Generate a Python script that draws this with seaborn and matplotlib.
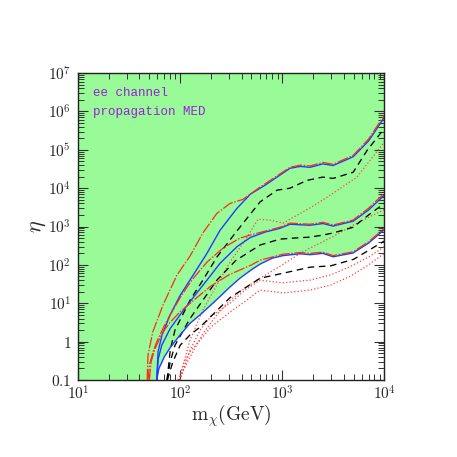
import matplotlib
matplotlib.use('Agg')
import matplotlib.pyplot as plt
import seaborn as sns
from matplotlib.ticker import FixedLocator, LogLocator, NullFormatter

sns.set_style('ticks')
plt.rcParams['mathtext.fontset'] = 'cm'
plt.rcParams['font.family'] = ['DejaVu Serif', 'DejaVu Sans']

# ---------------- data ----------------
# top family
A_red_m = [47.5, 48.5, 54, 68, 93, 125, 167, 229, 308, 412, 607, 1190, 1500, 1870, 2500, 3150, 4950, 7000, 10000]
A_red_eta = [0.1, 0.45, 1.8, 9, 54, 170, 680, 2200, 4000, 5100, 1.07e4, 3.5e4, 4.0e4, 3.8e4, 4.7e4, 4.2e4, 7.2e4, 1.9e5, 8.0e5]
A_blue_m = [59, 60.8, 66.5, 79.6, 100, 134, 183, 246, 361, 488, 680, 1190, 1500, 1870, 2500, 3150, 4950, 7000, 10000]
A_blue_eta = [0.1, 0.54, 1.5, 4.9, 16, 54, 200, 800, 3000, 7000, 1.2e4, 3.3e4, 3.7e4, 3.5e4, 4.3e4, 3.9e4, 6.6e4, 1.7e5, 7.0e5]
A_black_m = [74.5, 80, 89, 125, 167, 229, 350, 607, 890, 1190, 1750, 2500, 3150, 4950, 6800, 10000]
A_black_eta = [0.1, 0.6, 2.0, 12, 40, 160, 700, 4400, 8900, 1.0e4, 1.6e4, 1.95e4, 1.8e4, 2.6e4, 9.8e4, 3.6e5]
A_dot_m = [95, 100, 125, 167, 229, 308, 432, 580, 760, 1020, 1500, 2000, 3150, 5400, 10000]
A_dot_eta = [0.1, 0.13, 1.1, 6.6, 30, 118, 440, 1550, 1470, 1230, 2200, 3400, 7400, 1.95e4, 1.6e5]

# middle family
B_red_m = [48.5, 50, 55, 60, 70, 80, 100, 130, 183, 263, 385, 520, 680, 950, 1190, 1870, 2500, 3150, 4950, 7000, 10000]
B_red_eta = [0.1, 0.25, 0.6, 1.1, 2.6, 5, 14, 40, 118, 275, 500, 630, 760, 960, 1230, 1150, 1290, 1100, 1480, 3000, 7400]
B_blue_m = [59, 61, 66, 80, 100, 134, 183, 246, 361, 488, 680, 950, 1190, 1870, 2500, 3150, 4950, 7000, 10000]
B_blue_eta = [0.1, 0.35, 0.8, 2.2, 5, 14, 40, 110, 300, 520, 720, 900, 1150, 1080, 1200, 1030, 1380, 2700, 6600]
B_black_m = [74.5, 80, 89, 125, 167, 229, 350, 607, 950, 1280, 1870, 2500, 3150, 4950, 7000, 10000]
B_black_eta = [0.1, 0.3, 0.8, 4, 12, 40, 130, 330, 470, 500, 530, 600, 680, 960, 2000, 4000]
B_dot_m = [97, 125, 167, 229, 308, 432, 607, 1000, 1500, 2000, 3150, 5000, 10000]
B_dot_eta = [0.1, 0.4, 1.6, 5, 12, 25, 45, 100, 200, 300, 550, 1100, 2800]

# bottom family
C_red_m = [50, 52, 56, 62, 70, 80, 100, 150, 200, 300, 500, 607, 1020, 1500, 1870, 2500, 3150, 4950, 7000, 10000]
C_red_eta = [0.1, 0.3, 0.6, 1.1, 2, 3.2, 6, 15, 28, 55, 100, 133, 190, 210, 200, 215, 175, 220, 400, 900]
C_blue_m = [59, 62, 70, 80, 100, 125, 157, 200, 246, 300, 385, 500, 607, 800, 1020, 1500, 1870, 2500, 3150, 4950, 7000, 10000]
C_blue_eta = [0.1, 0.2, 0.4, 0.7, 1.5, 3.0, 5, 9, 15, 25, 45, 75, 105, 150, 175, 195, 185, 200, 163, 205, 370, 830]
C_black_m = [75, 85, 100, 125, 157, 308, 607, 1000, 1860, 3000, 5000, 10000]
C_black_eta = [0.1, 0.3, 0.8, 1.5, 2.4, 14, 45, 60, 87, 95, 140, 420]
C_dot1_m = [100, 125, 157, 200, 308, 432, 605, 1020, 1500, 1860, 3000, 4600, 7000, 10000]
C_dot1_eta = [0.1, 0.6, 2.0, 4.5, 10, 22, 40, 34, 38, 40, 55, 90, 160, 300]
C_dot2_m = [98, 110, 125, 157, 200, 308, 450, 605, 1020, 1860, 3000, 4600, 7000, 10000]
C_dot2_eta = [0.1, 0.3, 0.55, 1.1, 2.4, 5.9, 12, 22, 18.6, 22, 30, 50, 100, 200]

x_ticks = [10, 100, 1000, 10000]
x_labels = [r'$10^{1}$', r'$10^{2}$', r'$10^{3}$', r'$10^{4}$']
y_ticks = [0.1, 1, 10, 100, 1e3, 1e4, 1e5, 1e6, 1e7]
y_labels = [r'$0.1$', r'$1$', r'$10^{1}$', r'$10^{2}$', r'$10^{3}$', r'$10^{4}$',
            r'$10^{5}$', r'$10^{6}$', r'$10^{7}$']

# ---------------- figure ----------------
fig = plt.figure(figsize=(4.57, 4.57), dpi=100)
ax = fig.add_axes([0.1707, 0.1685, 0.6703, 0.6715])
ax.set_xscale('log')
ax.set_yscale('log')

# excluded (green) region: above the lowest solid curve
poly_x = [10, C_blue_m[0]] + C_blue_m + [C_blue_m[-1], 10]
poly_y = [1e-3, 1e-3] + C_blue_eta + [1e8, 1e8]
ax.fill(poly_x, poly_y, color='#98fb98', lw=0, zorder=0)

RED = '#ff2a1a'
BLUE = '#1f3cff'
DOT = '#ff4040'

def draw(m, eta, color, lw, dashes=None, z=2):
    sns.lineplot(x=m, y=eta, ax=ax, color=color, lw=lw, estimator=None,
                 sort=False, zorder=z)
    ln = ax.lines[-1]
    if dashes is not None:
        ln.set_dashes(dashes)

for m, e in [(A_dot_m, A_dot_eta), (B_dot_m, B_dot_eta), (C_dot1_m, C_dot1_eta), (C_dot2_m, C_dot2_eta)]:
    draw(m, e, DOT, 0.9, (1.0, 1.7), 2)
for m, e in [(A_black_m, A_black_eta), (B_black_m, B_black_eta), (C_black_m, C_black_eta)]:
    draw(m, e, 'black', 0.95, (5, 3.5), 3)
for m, e in [(A_blue_m, A_blue_eta), (B_blue_m, B_blue_eta), (C_blue_m, C_blue_eta)]:
    draw(m, e, BLUE, 1.0, None, 4)
for m, e in [(A_red_m, A_red_eta), (B_red_m, B_red_eta), (C_red_m, C_red_eta)]:
    draw(m, e, RED, 0.9, (9, 1.3, 1.2, 1.3), 5)

ax.set_xlim(10, 1e4)
ax.set_ylim(0.1, 1e7)

ax.xaxis.set_major_locator(FixedLocator(x_ticks))
ax.set_xticklabels(x_labels, fontsize=11)
ax.yaxis.set_major_locator(FixedLocator(y_ticks))
ax.set_yticklabels(y_labels, fontsize=11)
ax.xaxis.set_minor_locator(LogLocator(base=10, subs=range(2, 10), numticks=20))
ax.yaxis.set_minor_locator(LogLocator(base=10, subs=range(2, 10), numticks=20))
ax.xaxis.set_minor_formatter(NullFormatter())
ax.yaxis.set_minor_formatter(NullFormatter())
ax.tick_params(which='both', direction='in', top=True, right=True, color='#333333')
ax.tick_params(which='major', length=7, width=0.8)
ax.tick_params(axis='x', which='major', pad=3)
ax.tick_params(axis='y', which='major', pad=5)
ax.tick_params(which='minor', length=4, width=0.7)
for s in ax.spines.values():
    s.set_linewidth(1.0)
    s.set_color('#222222')

ax.set_xlabel(r'$\mathrm{m}_{\chi}\mathrm{(GeV)}$', fontsize=14, labelpad=0)
ax.set_ylabel(r'$\eta$', fontsize=16, labelpad=0)

ax.text(0.05, 0.935, 'ee channel', transform=ax.transAxes, color='#9b1fd6',
        family=['Liberation Mono', 'DejaVu Sans Mono'], fontsize=9, va='center')
ax.text(0.05, 0.873, 'propagation MED', transform=ax.transAxes, color='#9b1fd6',
        family=['Liberation Mono', 'DejaVu Sans Mono'], fontsize=9, va='center')

fig.savefig('out.png', dpi=100)
